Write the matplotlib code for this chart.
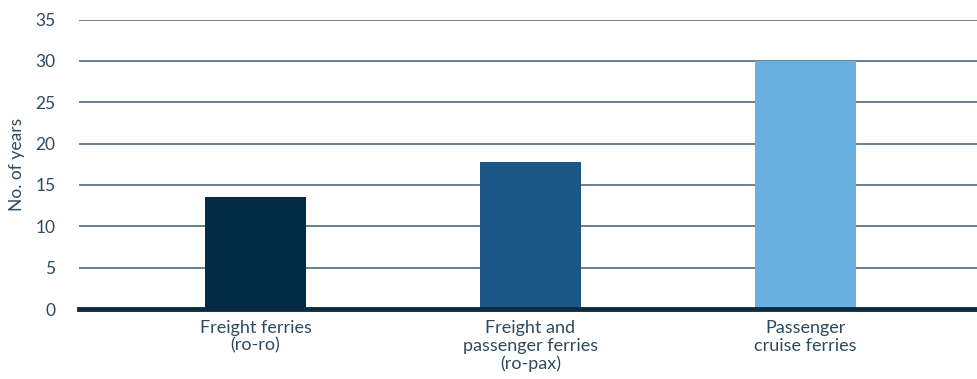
import numpy as np
import matplotlib.pyplot as plt

# Data
categories = ["Freight ferries\n(ro-ro)",
              "Freight and\npassenger ferries\n(ro-pax)",
              "Passenger\ncruise ferries"]
years = [13.6, 17.8, 30.0]
colors = ["#022b45", "#1b5786", "#69b0e1"]
y_ticks = [0, 5, 10, 15, 20, 25, 30, 35]

text_color = "#2d4a60"
grid_color = "#3f5d73"

plt.rcParams['font.family'] = ['Lato', 'DejaVu Sans']

fig = plt.figure(figsize=(9.77, 3.79), dpi=100)
ax = fig.add_axes([79 / 977, 1 - 309 / 379, 1 - 79 / 977, (309 - 19.5) / 379])

x = np.arange(len(categories))
ax.bar(x, years, width=0.367, color=colors, zorder=3)

ax.set_xlim(-0.642, 2.624)
ax.set_ylim(0, 35)
ax.set_yticks(y_ticks)
ax.set_yticklabels([str(t) for t in y_ticks], fontsize=12.5, color=text_color)
ax.set_xticks(x)
ax.set_xticklabels(categories, fontsize=13, color=text_color, linespacing=1.12)
ax.tick_params(axis='both', length=0)
ax.tick_params(axis='y', pad=17)
ax.tick_params(axis='x', pad=8)

# gridlines
for t in y_ticks[1:]:
    ax.axhline(t, color=grid_color, lw=1.1, zorder=1)
ax.axhline(0, color="#0a2b42", lw=3.5, zorder=4, clip_on=False)

for s in ax.spines.values():
    s.set_visible(False)

ax.set_ylabel("No. of years", fontsize=12.5, color=text_color, labelpad=7)

fig.savefig("out.png", dpi=100)
